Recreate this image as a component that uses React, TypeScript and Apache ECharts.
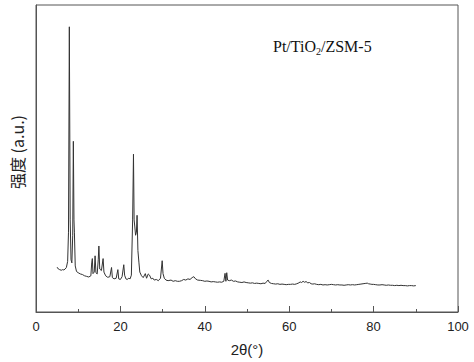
import React, { useEffect, useRef } from "react";
import * as echarts from "echarts";

const twoTheta: number[] = [
  5.0, 5.3, 5.6, 6.0, 6.3, 6.6, 6.9, 7.2, 7.5, 7.7, 7.9, 8.1, 8.3, 8.5, 8.7, 8.85, 9.0, 9.1, 9.3, 9.6,
  10.0, 10.5, 11.0, 11.5, 12.0, 12.5, 13.0, 13.2, 13.35, 13.5, 13.8, 14.0, 14.2, 14.5, 14.75, 14.9, 15.1, 15.5, 15.9, 16.1,
  16.5, 17.0, 17.5, 17.9, 18.1, 18.5, 19.0, 19.4, 19.6, 20.0, 20.4, 20.8, 21.0, 21.3, 21.6, 22.0, 22.3, 22.6, 22.9, 23.1,
  23.25, 23.4, 23.6, 23.8, 23.95, 24.15, 24.4, 24.6, 25.0, 25.4, 25.9, 26.2, 26.6, 26.9, 27.3, 27.7, 28.0, 28.5, 29.0, 29.5,
  29.9, 30.1, 30.4, 30.8, 31.3, 32.0, 32.5, 33.0, 33.5, 34.0, 34.5, 35.0, 35.5, 36.0, 36.5, 37.0, 37.4, 37.8, 38.3, 39.0,
  39.5, 40.0, 40.5, 41.0, 41.5, 42.0, 42.5, 43.0, 43.5, 44.0, 44.5, 44.8, 45.0, 45.2, 45.4, 45.8, 46.3, 46.8, 47.3, 47.8,
  48.3, 48.8, 49.3, 49.8, 50.3, 50.8, 51.3, 51.8, 52.3, 52.8, 53.3, 53.8, 54.3, 54.7, 55.0, 55.3, 55.8, 56.3, 56.8, 57.3,
  57.8, 58.3, 58.8, 59.3, 59.8, 60.3, 60.8, 61.3, 61.8, 62.3, 62.6, 62.9, 63.3, 63.6, 64.0, 64.4, 64.8, 65.2, 65.6, 66.0,
  66.5, 67.0, 67.5, 68.0, 68.5, 69.0, 69.5, 70.0, 70.5, 71.0, 71.5, 72.0, 72.5, 73.0, 73.5, 74.0, 74.5, 75.0, 75.5, 76.0,
  76.5, 77.0, 77.5, 78.0, 78.5, 78.8, 79.2, 79.6, 80.0, 80.5, 81.0, 81.5, 82.0, 82.5, 83.0, 83.5, 84.0, 84.5, 85.0, 85.5,
  86.0, 86.5, 87.0, 87.5, 88.0, 88.5, 89.0, 89.5, 90.0,
];

const intensity: number[] = [
  146, 140, 138, 136, 138, 137, 140, 145, 165, 260, 929, 300, 170, 160, 250, 556, 300, 260, 150, 132,
  128, 124, 122, 118, 116, 114, 118, 160, 174, 125, 130, 183, 128, 124, 170, 215, 140, 135, 174, 130,
  118, 113, 115, 145, 112, 108, 110, 138, 108, 106, 115, 154, 120, 108, 106, 110, 108, 120, 300, 514,
  300, 280, 250, 260, 315, 200, 160, 130, 118, 112, 125, 110, 124, 120, 108, 110, 104, 106, 102, 110,
  167, 125, 110, 104, 102, 104, 100, 102, 100, 100, 102, 106, 104, 108, 106, 112, 115, 108, 104, 103,
  102, 100, 101, 100, 98, 99, 98, 97, 98, 97, 100, 126, 100, 128, 104, 102, 104, 100, 101, 98,
  97, 96, 98, 96, 95, 94, 95, 93, 94, 93, 92, 94, 93, 100, 104, 96, 93, 92, 91, 92,
  90, 91, 90, 89, 90, 90, 91, 90, 92, 95, 98, 96, 100, 97, 99, 95, 96, 92, 91, 92,
  90, 89, 90, 88, 89, 88, 89, 90, 89, 88, 89, 88, 88, 87, 88, 89, 88, 89, 88, 89,
  90, 91, 92, 93, 94, 92, 91, 90, 90, 89, 88, 88, 89, 88, 87, 88, 87, 87, 86, 87,
  86, 87, 86, 86, 85, 86, 86, 85, 86,
];

const xTicks = { min: 0, max: 100, interval: 20 };
const sampleLabel = ["Pt/TiO", "2", "/ZSM-5"];
const yTitle = "强度 (a.u.)";
const xTitle = "2θ(°)";

export default function App() {
  const ref = useRef<HTMLDivElement>(null);
  useEffect(() => {
    if (!ref.current) return;
    const chart = echarts.init(ref.current, null, { renderer: "svg" });
    const data = twoTheta.map((x, i) => [x, intensity[i]]);
    chart.setOption({
      animation: false,
      backgroundColor: "#fff",
      grid: {
        left: 36,
        right: 16,
        top: 5,
        bottom: 46,
        show: true,
        borderColor: "#555",
        borderWidth: 1,
      },
      xAxis: {
        type: "value",
        min: xTicks.min,
        max: xTicks.max,
        interval: xTicks.interval,
        name: xTitle,
        nameLocation: "middle",
        nameGap: 30,
        nameTextStyle: { fontSize: 15, color: "#222", fontFamily: "Liberation Sans, Arial" },
        axisLine: { show: true, lineStyle: { color: "#555", width: 1 } },
        axisTick: { show: true, inside: true, length: 6, lineStyle: { color: "#555" } },
        minorTick: { show: true, splitNumber: 2, length: 3, lineStyle: { color: "#555" } },
        axisLabel: { fontSize: 13, color: "#222", margin: 8, fontFamily: "Liberation Sans, Arial" },
        splitLine: { show: false },
      },
      yAxis: {
        type: "value",
        min: 0,
        max: 1000,
        axisLine: { show: true, onZero: false, lineStyle: { color: "#555", width: 1 } },
        axisTick: { show: false },
        axisLabel: { show: false },
        splitLine: { show: false },
      },
      series: [
        {
          type: "line",
          data,
          showSymbol: false,
          symbol: "none",
          lineStyle: { color: "#333", width: 1 },
        },
      ],
      graphic: [
        {
          type: "text",
          x: 17,
          y: 152,
          rotation: Math.PI / 2,
          style: {
            text: yTitle,
            fontSize: 16,
            fill: "#222",
            fontFamily: "Noto Sans CJK SC, Liberation Sans",
            align: "center",
            verticalAlign: "middle",
          },
        },
        {
          type: "text",
          x: 273,
          y: 46,
          style: {
            text: `{a|${sampleLabel[0]}}{b|${sampleLabel[1]}}{a|${sampleLabel[2]}}`,
            align: "left",
            verticalAlign: "middle",
            rich: {
              a: { fontSize: 16, fontFamily: "Liberation Serif, Times New Roman", fill: "#111", lineHeight: 20 },
              b: { fontSize: 10, fontFamily: "Liberation Serif, Times New Roman", fill: "#111", lineHeight: 20, padding: [10, 0, 0, 0] },
            },
          },
        },
      ],
    });
    return () => chart.dispose();
  }, []);
  return (
    <div
      ref={ref}
      style={{ position: "fixed", left: 0, top: 0, width: 474, height: 362 }}
    />
  );
}
